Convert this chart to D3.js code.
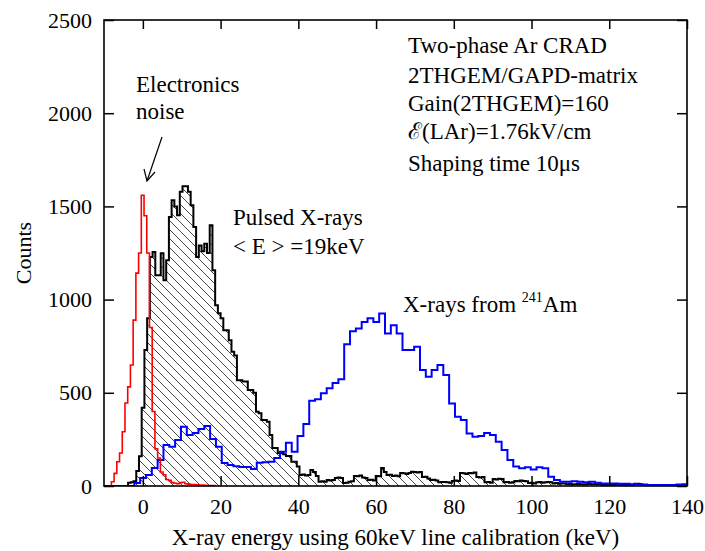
<!DOCTYPE html>
<html>
<head>
<meta charset="utf-8">
<script src="https://cdn.jsdelivr.net/npm/d3@7"></script>
<style>
  body { margin: 0; background: #fff; }
  svg text { font-family: "Liberation Serif", "Times New Roman", "DejaVu Serif", serif; fill: #000; }
</style>
</head>
<body>
<div id="chart"></div>
<script>
// histogram bins: first left edge (keV), bin width (keV), counts per bin
const redStart = -8.1, redWidth = 0.7;
const redCounts = [
    23, 68, 130, 177, 291, 445, 532, 649, 890, 1142,
    1250, 1560, 1450, 1250, 850, 400, 200, 150, 75, 60,
    35, 30, 18, 15, 12, 18, 20, 12, 10, 8,
    8, 6, 5, 5, 4, 3, 3, 2
];

const blackStart = -3.8, blackWidth = 0.7;
const blackCounts = [
    18, 20, 25, 80, 160, 420, 730, 900, 1229, 1256,
    1131, 1131, 1249, 1104, 1211, 1443, 1533, 1500, 1453, 1578,
    1608, 1608, 1578, 1506, 1390, 1229, 1290, 1260, 1300, 1250,
    1399, 1158, 970, 927, 900, 836, 836, 782, 720, 700,
    568, 568, 560, 560, 515, 515, 500, 398, 390, 354,
    354, 345, 273, 204, 204, 177, 177, 170, 161, 161,
    130, 130, 104, 59, 62, 57, 59, 86, 75, 54,
    23, 25, 23, 32, 30, 32, 43, 45, 43, 16,
    18, 23, 25, 54, 52, 56, 45, 43, 32, 34,
    30, 54, 52, 96, 75, 59, 61, 54, 56, 52,
    70, 68, 65, 70, 77, 75, 73, 75, 48, 50,
    40, 32, 34, 30, 20, 22, 22, 20, 18, 27,
    29, 27, 70, 68, 65, 70, 68, 72, 48, 46,
    48, 20, 22, 18, 37, 35, 39, 37, 20, 22,
    18, 20, 27, 25, 29, 27, 25, 16, 18, 14,
    20, 22, 18, 20, 22, 20, 14, 16, 12, 14,
    14, 10, 12, 8, 10, 12, 10, 8, 10, 12,
    10, 9, 10, 10, 5, 6, 4, 5, 6, 5,
    4, 5, 5, 6, 5, 5, 12, 12, 10, 3
];

const blueStart = -11.2, blueWidth = 1.5;
const blueCounts = [
    0, 0, 0, 0, 0, 0, 16, 43, 59, 96,
    139, 220, 211, 247, 318, 273, 284, 306, 322, 252,
    211, 123, 113, 106, 102, 102, 91, 125, 127, 130,
    150, 184, 232, 184, 268, 332, 457, 465, 498, 525,
    552, 573, 760, 830, 845, 880, 900, 880, 925, 818,
    863, 818, 729, 729, 747, 622, 586, 622, 649, 595,
    443, 372, 354, 282, 264, 268, 285, 273, 238, 193,
    139, 104, 95, 100, 89, 100, 95, 50, 32, 23,
    23, 25, 23, 20, 23, 18, 14, 14, 14, 12,
    12, 10, 10, 8, 5, 5, 5, 5, 5, 8,
    10, 10
];

const xTicks = [0, 20, 40, 60, 80, 100, 120, 140];
const yTicks = [0, 500, 1000, 1500, 2000, 2500];

const margin = { top: 20, right: 18, bottom: 65, left: 104 };
const width = 705 - margin.left - margin.right;
const height = 551 - margin.top - margin.bottom;

const svg = d3.select("#chart")
    .append("svg")
    .attr("width", 705)
    .attr("height", 551);

const defs = svg.append("defs");

defs.append("clipPath")
    .attr("id", "plot-clip")
    .append("rect")
    .attr("width", width)
    .attr("height", height);

const hatch = defs.append("pattern")
    .attr("id", "hatch")
    .attr("patternUnits", "userSpaceOnUse")
    .attr("width", 9)
    .attr("height", 9);
hatch.append("path")
    .attr("d", "M-1,-1 L10,10 M-10,-1 L1,10 M8,-1 L19,10")
    .attr("stroke", "#333")
    .attr("stroke-width", 0.9);

const g = svg.append("g")
    .attr("transform", `translate(${margin.left}, ${margin.top})`);

const x = d3.scaleLinear().domain([-10, 140]).range([0, width]);
const y = d3.scaleLinear().domain([0, 2500]).range([height, 0]);

function steps(start, w, counts) {
    const pts = [{ e: start, c: 0 }];
    counts.forEach((c, i) => pts.push({ e: start + i * w, c: c }));
    pts.push({ e: start + counts.length * w, c: 0 });
    return pts;
}

const line = d3.line()
    .x(d => x(d.e))
    .y(d => y(d.c))
    .curve(d3.curveStepAfter);

const area = d3.area()
    .x(d => x(d.e))
    .y0(y(0))
    .y1(d => y(d.c))
    .curve(d3.curveStepAfter);

const plot = g.append("g").attr("clip-path", "url(#plot-clip)");

const blackData = steps(blackStart, blackWidth, blackCounts);

plot.append("path")
    .datum(blackData)
    .attr("fill", "url(#hatch)")
    .attr("d", area);

plot.append("path")
    .datum(blackData)
    .attr("fill", "none")
    .attr("stroke", "#000")
    .attr("stroke-width", 2)
    .attr("d", line);

plot.append("path")
    .datum(steps(blueStart, blueWidth, blueCounts))
    .attr("fill", "none")
    .attr("stroke", "#0000ff")
    .attr("stroke-width", 2)
    .attr("d", line);

plot.append("path")
    .datum(steps(redStart, redWidth, redCounts))
    .attr("fill", "none")
    .attr("stroke", "#ff0000")
    .attr("stroke-width", 1.6)
    .attr("d", line);

// axes with inward ticks on all four sides
const fontSize = "22px";

const xAxis = g.append("g")
    .attr("transform", `translate(0, ${height})`)
    .call(d3.axisBottom(x).tickValues(xTicks).tickFormat(d3.format("d"))
        .tickSizeInner(-10).tickSizeOuter(0).tickPadding(12));

g.append("g")
    .call(d3.axisTop(x).tickValues(xTicks).tickSizeInner(-9).tickSizeOuter(0).tickFormat(""));

const yAxis = g.append("g")
    .call(d3.axisLeft(y).tickValues(yTicks).tickFormat(d3.format("d"))
        .tickSizeInner(-10).tickSizeOuter(0).tickPadding(12));

g.append("g")
    .attr("transform", `translate(${width}, 0)`)
    .call(d3.axisRight(y).tickValues(yTicks).tickSizeInner(-10).tickSizeOuter(0).tickFormat(""));

g.selectAll(".domain").remove();
g.selectAll(".tick line").attr("stroke", "#000").attr("stroke-width", 1.5);
g.selectAll("g").attr("font-family", null).attr("font-size", null);
xAxis.selectAll("text").style("font-size", fontSize);
yAxis.selectAll("text").style("font-size", fontSize);

g.append("rect")
    .attr("width", width)
    .attr("height", height)
    .attr("fill", "none")
    .attr("stroke", "#000")
    .attr("stroke-width", 1.6);

// axis titles
svg.append("text")
    .attr("x", margin.left + width / 2)
    .attr("y", 545)
    .attr("text-anchor", "middle")
    .style("font-size", "23px")
    .text("X-ray energy using 60keV line calibration (keV)");

svg.append("text")
    .attr("transform", "rotate(-90)")
    .attr("x", -253)
    .attr("y", 31)
    .attr("text-anchor", "middle")
    .style("font-size", "22px")
    .text("Counts");

// annotations
const note = (px, py, str) => svg.append("text")
    .attr("x", px)
    .attr("y", py)
    .style("font-size", "23px")
    .text(str);

note(136, 92, "Electronics");
note(136, 119, "noise");
note(233, 225, "Pulsed X-rays");
note(233, 254, "< E > =19keV");

const am = note(403, 312, "X-rays from ");
am.append("tspan").attr("dy", -10).style("font-size", "14px").text("241");
am.append("tspan").attr("dy", 10).text("Am");

const info = [
    "Two-phase Ar CRAD",
    "2THGEM/GAPD-matrix",
    "Gain(2THGEM)=160",
    "\u2130(LAr)=1.76kV/cm",
    "Shaping time 10\u03bcs"
];
const infoY = [53, 83, 111, 139, 171];
info.forEach((s, i) => note(408, infoY[i], s));

// arrow to the noise peak
const arrow = svg.append("g")
    .attr("stroke", "#000")
    .attr("stroke-width", 1.2)
    .attr("fill", "none");
arrow.append("line").attr("x1", 162).attr("y1", 137).attr("x2", 147).attr("y2", 181);
arrow.append("path").attr("d", "M144,169 L147,181 L155,172");
</script>
</body>
</html>
